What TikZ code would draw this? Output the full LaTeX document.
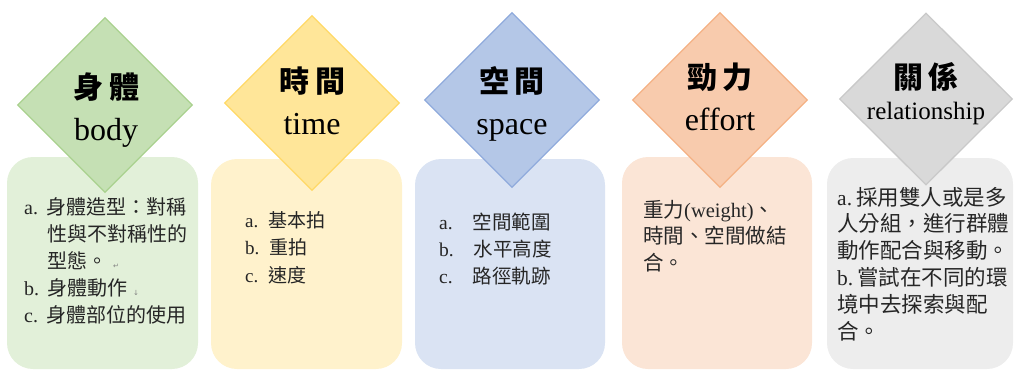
\documentclass[tikz,border=0pt]{standalone}
\usepackage{fontspec}
\setmainfont{Liberation Serif}
\newfontfamily\cjk{Noto Sans CJK TC}
\newfontfamily\markfont{DejaVu Sans}
\usepackage{xcolor}
\usetikzlibrary{shapes.geometric}

\definecolor{bodyline}{HTML}{A9D18E}
\definecolor{bodyfill}{HTML}{C5E0B4}
\definecolor{bodybox}{HTML}{E2F0D9}
\definecolor{timeline}{HTML}{FFD966}
\definecolor{timefill}{HTML}{FFE699}
\definecolor{timebox}{HTML}{FFF2CC}
\definecolor{spaceline}{HTML}{8FAADC}
\definecolor{spacefill}{HTML}{B4C7E7}
\definecolor{spacebox}{HTML}{DAE3F3}
\definecolor{effortline}{HTML}{F4B183}
\definecolor{effortfill}{HTML}{F8CBAD}
\definecolor{effortbox}{HTML}{FBE5D6}
\definecolor{relline}{HTML}{C9C9C9}
\definecolor{relfill}{HTML}{D9D9D9}
\definecolor{relbox}{HTML}{EDEDED}

\tikzset{
  notebox/.style={rectangle, rounded corners=26pt, inner sep=0pt},
  keyshape/.style={diamond, draw, line width=1.3pt, minimum width=175pt,
                   minimum height=175pt, inner sep=0pt},
  keytitle/.style={align=center, inner sep=0pt, text=black,
                   font=\fontsize{30}{42}\selectfont},
  itemtext/.style={align=left, inner sep=0pt, anchor=base west, text=black!85}
}

\begin{document}
\begin{tikzpicture}[x=1pt,y=-1pt]
\useasboundingbox (0,0) rectangle (1014,370);

% boxes underneath
\node [notebox, fill=bodybox, minimum width=191pt, minimum height=212pt]
       (bodybox) at (102.5,263) {};
\node [notebox, fill=timebox, minimum width=191pt, minimum height=210pt]
       (timebox) at (306.5,264) {};
\node [notebox, fill=spacebox, minimum width=190pt, minimum height=210pt]
       (spacebox) at (510,264) {};
\node [notebox, fill=effortbox, minimum width=190pt, minimum height=212pt]
       (effortbox) at (717,263) {};
\node [notebox, fill=relbox, minimum width=186pt, minimum height=211pt]
       (relbox) at (920,263.5) {};

% diamonds on top
\node [keyshape, fill=bodyfill, draw=bodyline] (bodykey) at (105,105) {};
\node [keyshape, fill=timefill, draw=timeline] (timekey) at (312,103) {};
\node [keyshape, fill=spacefill, draw=spaceline] (spacekey) at (512,100) {};
\node [keyshape, fill=effortfill, draw=effortline] (effortkey) at (720,100) {};
\node [keyshape, fill=relfill, draw=relline, minimum width=173pt,
       minimum height=172pt] (relkey) at (926,99) {};

% titles
\node [keytitle] (bodytitle) at (106,110)
       {{\cjk\bfseries 身\hspace{6pt}體}\\{\fontsize{32}{42}\selectfont body}};
\node [keytitle] (timetitle) at (312,101)
       {{\cjk\bfseries 時\hspace{6pt}間}\\{\fontsize{32}{42}\selectfont time}};
\node [keytitle] (spacetitle) at (512,103.5)
       {{\cjk\bfseries 空\hspace{6pt}間}\\{\fontsize{32}{42}\selectfont space}};
\node [keytitle] (efforttitle) at (720,97)
       {{\cjk\bfseries 勁\hspace{6pt}力}\\{\fontsize{32}{42}\selectfont effort}};
\node [keytitle, font=\fontsize{30}{31}\selectfont] (reltitle) at (926,94)
       {{\cjk\bfseries 關\hspace{6pt}係}\\{\fontsize{25}{31}\selectfont relationship}};

% item lists (base = last line)
\node [itemtext, font=\fontsize{20}{27}\selectfont] (bodyitems) at (24,322)
       {a.\hspace{8pt}{\cjk 身體造型：對稱}\\
        \hspace*{23pt}{\cjk 性與不對稱性的}\\
        \hspace*{23pt}{\cjk 型態。}\hspace{6pt}{\markfont\fontsize{7}{7}\selectfont\color{gray}↵}\\
        b.\hspace{8pt}{\cjk 身體動作}\hspace{6pt}{\markfont\fontsize{7}{7}\selectfont\color{gray}↓}\\
        c.\hspace{8pt}{\cjk 身體部位的使用}};
\node [itemtext, font=\fontsize{19}{27.5}\selectfont] (timeitems) at (245,282)
       {a.\hspace{10pt}{\cjk 基本拍}\\
        b.\hspace{10pt}{\cjk 重拍}\\
        c.\hspace{10pt}{\cjk 速度}};
\node [itemtext, font=\fontsize{19.5}{27}\selectfont] (spaceitems) at (439,283)
       {a.\hspace{20pt}{\cjk 空間範圍}\\
        b.\hspace{20pt}{\cjk 水平高度}\\
        c.\hspace{20pt}{\cjk 路徑軌跡}};
\node [itemtext, font=\fontsize{20.5}{26.5}\selectfont] (effortitems) at (643,270)
       {{\cjk 重力}(weight){\cjk 、}\\
        {\cjk 時間、空間做結}\\
        {\cjk 合。}};
\node [itemtext, font=\fontsize{21.5}{26.8}\selectfont] (relitems) at (837,339)
       {a.\hspace{4pt}{\cjk 採用雙人或是多}\\
        {\cjk 人分組，進行群體}\\
        {\cjk 動作配合與移動。}\\
        b.\hspace{4pt}{\cjk 嘗試在不同的環}\\
        {\cjk 境中去探索與配}\\
        {\cjk 合。}};
\end{tikzpicture}
\end{document}
